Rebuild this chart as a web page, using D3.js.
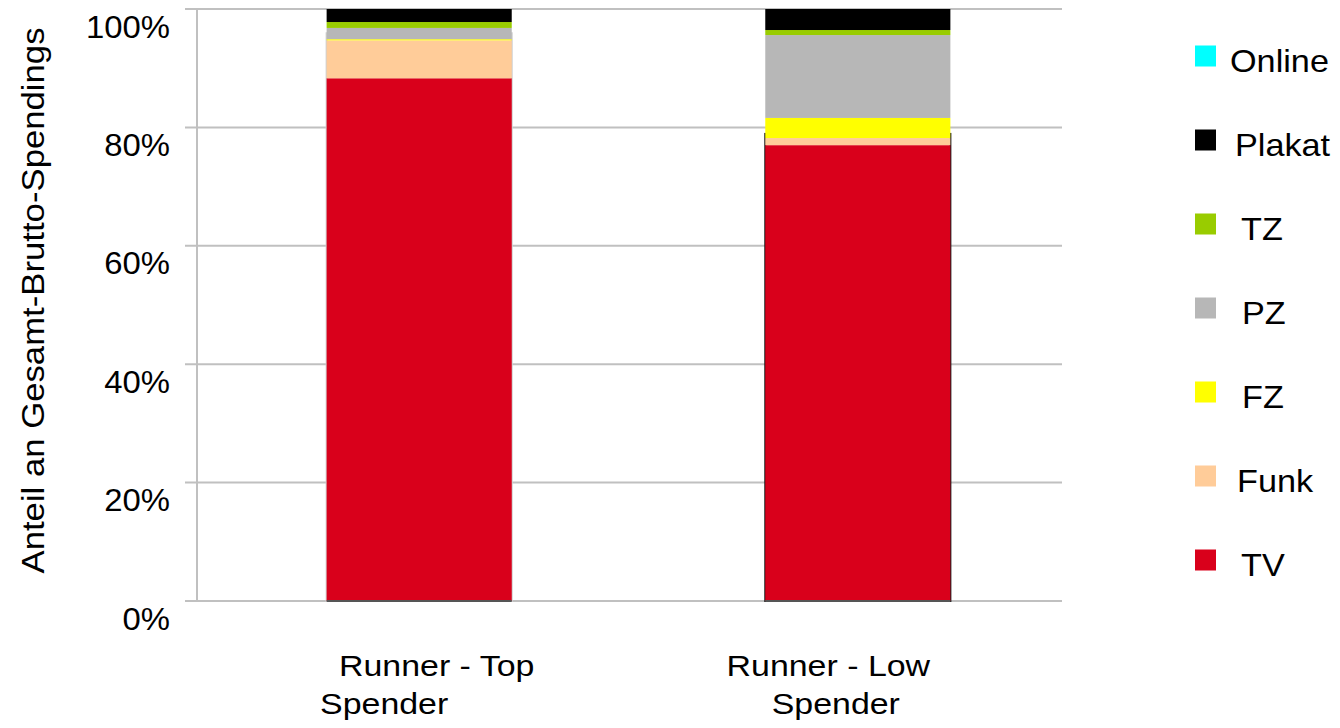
<!DOCTYPE html>
<html>
<head>
<meta charset="utf-8">
<script src="https://cdn.jsdelivr.net/npm/d3@7"></script>
<style>
  body { margin: 0; background: #fff; }
  text { font-family: "Liberation Sans", Arial, sans-serif; fill: #000; }
</style>
</head>
<body>
<script>
// categories + media shares (percent of gross spendings)
const categories = ["Runner - Top Spender", "Runner - Low Spender"]
const categoryLines = [["Runner - Top", "Spender"], ["Runner - Low", "Spender"]]
const media = ["TV", "Funk", "FZ", "PZ", "TZ", "Plakat", "Online"]
const colors = ["#d9001b", "#ffcc99", "#ffff00", "#b7b7b7", "#99cc00", "#000000", "#00ffff"]

const tv     = [88.3, 77.0]
const funk   = [6.4, 1.2]
const fz     = [0.2, 3.4]
const pz     = [1.9, 14.0]
const tz     = [1.0, 0.85]
const plakat = [2.2, 3.55]
const online = [0, 0]

// the original has a faint outline box behind each bar
const outlineTop = [95.9, 78.9]
const outlineColor = ["#cfcfcf", "#1a1a1a"]

const yTicks = [0, 20, 40, 60, 80, 100]

const rows = categories.map((c, i) => ({
  cat: c,
  TV: tv[i], Funk: funk[i], FZ: fz[i], PZ: pz[i], TZ: tz[i], Plakat: plakat[i], Online: online[i]
}))

const width = 1340, height = 728
const plotLeft = 197, plotRight = 1062, plotTop = 9, plotBottom = 601

let svg = d3.select("body").append("svg")
  .attr("width", width)
  .attr("height", height)

let y = d3.scaleLinear().domain([0, 100]).range([plotBottom, plotTop])
let x = d3.scaleBand().domain(categories).range([206, 1071])
  .paddingInner(0.578).paddingOuter(0.275)
let color = d3.scaleOrdinal().domain(media).range(colors)

// text in the source is drawn a little wider than Arial, so stretch it
function wideText(sel, tx, ty, sx, size) {
  return sel.append("g")
    .attr("transform", "translate(" + tx + "," + ty + ") scale(" + sx + ",1)")
    .append("text")
    .attr("font-size", size + "px")
}

// gridlines
svg.append("g")
  .selectAll("line")
  .data(yTicks)
  .enter()
  .append("line")
  .attr("x1", plotLeft - 12)
  .attr("x2", plotRight)
  .attr("y1", d => y(d))
  .attr("y2", d => y(d))
  .style("stroke", "#c0c0c0")
  .style("stroke-width", 2)

// y axis line
svg.append("line")
  .attr("x1", plotLeft).attr("x2", plotLeft)
  .attr("y1", y(100)).attr("y2", y(0))
  .style("stroke", "#c0c0c0")
  .style("stroke-width", 2)

// tick labels (sit a bit below their gridline, like the original)
yTicks.forEach(t => {
  wideText(svg, 170, y(t) + 28.5, 1.06, 31)
    .attr("text-anchor", "end")
    .text(t + "%")
})

// outline boxes behind bars
svg.append("g")
  .selectAll("rect")
  .data(categories)
  .enter()
  .append("rect")
  .attr("x", d => x(d))
  .attr("width", x.bandwidth())
  .attr("y", (d, i) => y(outlineTop[i]))
  .attr("height", (d, i) => y(0) - y(outlineTop[i]))
  .style("fill", "none")
  .style("stroke", (d, i) => outlineColor[i])
  .style("stroke-width", 2)

// stacked bars
let stack = d3.stack().keys(media)
let series = stack(rows)

svg.append("g")
  .selectAll("g")
  .data(series)
  .enter()
  .append("g")
  .style("fill", d => color(d.key))
  .selectAll("rect")
  .data(d => d)
  .enter()
  .append("rect")
  .attr("x", d => x(d.data.cat))
  .attr("width", x.bandwidth())
  .attr("y", d => y(d[1]))
  .attr("height", d => y(d[0]) - y(d[1]))

// dark base line under the bars
svg.append("g")
  .selectAll("line")
  .data(categories)
  .enter()
  .append("line")
  .attr("x1", d => x(d))
  .attr("x2", d => x(d) + x.bandwidth())
  .attr("y1", plotBottom)
  .attr("y2", plotBottom)
  .style("stroke", "#555")
  .style("stroke-width", 2)

// category labels, two lines each
const lineShift = [[17.5, -35], [-29.5, -22]]
categories.forEach((c, i) => {
  let cx = x(c) + x.bandwidth() / 2
  categoryLines[i].forEach((line, j) => {
    wideText(svg, cx + lineShift[i][j], 676 + j * 38, 1.15, 29.5)
      .attr("text-anchor", "middle")
      .text(line)
  })
})

// y axis title
svg.append("g")
  .attr("transform", "translate(44,300.5) rotate(-90) scale(1.12,1)")
  .append("text")
  .attr("text-anchor", "middle")
  .attr("font-size", "31px")
  .text("Anteil an Gesamt-Brutto-Spendings")

// legend, top entry is the last stack key
const legendShift = [0, 5, 11, 12, 12, 7, 11]
let legend = svg.append("g")
  .selectAll("g")
  .data(media.slice().reverse())
  .enter()
  .append("g")
  .attr("transform", (d, i) => "translate(1195," + (71.5 + i * 84) + ")")

legend.append("rect")
  .attr("x", 0)
  .attr("y", -26)
  .attr("width", 21)
  .attr("height", 21)
  .style("fill", d => color(d))

legend.append("g")
  .attr("transform", (d, i) => "translate(" + (35 + legendShift[i]) + ",0) scale(1.07,1)")
  .append("text")
  .attr("font-size", "32px")
  .text(d => d)
</script>
</body>
</html>
